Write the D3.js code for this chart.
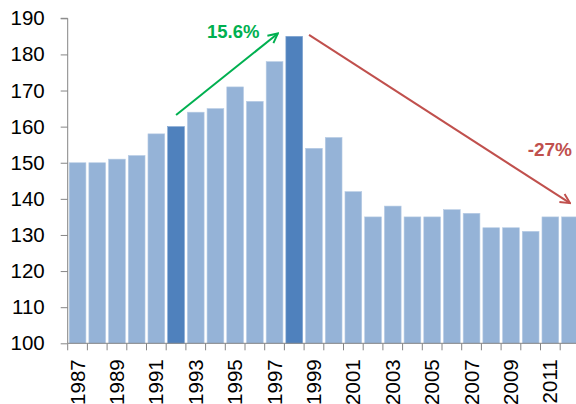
<!DOCTYPE html>
<html><head><meta charset="utf-8">
<script src="https://cdn.jsdelivr.net/npm/d3@7"></script>
<style>
body{margin:0;background:#fff;}
svg{display:block;font-family:"Liberation Sans",Arial,sans-serif;}
</style></head>
<body><svg id="c" width="576" height="404"></svg>
<script>
const years = [1987,1988,1989,1990,1991,1992,1993,1994,1995,1996,1997,1998,1999,2000,2001,2002,2003,2004,2005,2006,2007,2008,2009,2010,2011,2012];
const values = [150,150,151,152,158,160,164,165,171,167,178,185,154,157,142,135,138,135,135,137,136,132,132,131,135,135];
const highlightYears = [1992,1998];
const yTicks = [100,110,120,130,140,150,160,170,180,190];
const xLabelYears = [1987,1989,1991,1993,1995,1997,1999,2001,2003,2005,2007,2009,2011];
const annotations = [
  {label:"15.6%", color:"#00b050", from:[1992,163.2], to:[1997.17,185.8], text:[1994.9,184.6], anchor:"middle", size:18.5},
  {label:"-27%", color:"#c0504d", from:[1998.75,185.4], to:[2012,138.8], text:[2012.1,151.9], anchor:"end", size:19}
];

const svg = d3.select("#c");
const mLeft = 67.7, mTop = 18.3, mBottom = 343.3, step = 19.7;
const x = d3.scaleBand().domain(years).range([mLeft, mLeft + step*years.length]).paddingInner(0.15).paddingOuter(0.075);
const y = d3.scaleLinear().domain([100,190]).range([mBottom, mTop]);
const xc = v => mLeft + (v - years[0]) * step + step/2;

// bars
svg.append("g").selectAll("rect").data(years).join("rect")
  .attr("x", d => x(d))
  .attr("y", (d,i) => y(values[i]))
  .attr("width", x.bandwidth())
  .attr("height", (d,i) => y(100) - y(values[i]))
  .attr("fill", d => highlightYears.includes(d) ? "#4f81bd" : "#95b3d7")
  .attr("stroke", d => highlightYears.includes(d) ? "#7ea3d0" : "#b8cce4")
  .attr("stroke-width", 0.6);

// y axis
const yAxis = d3.axisLeft(y).tickValues(yTicks).tickSize(7).tickPadding(16);
const gy = svg.append("g").attr("transform", `translate(${mLeft},0)`).call(yAxis);
gy.select(".domain").attr("stroke","#868686").attr("d", `M-7,${mTop}H0V${mBottom}`);
gy.selectAll(".tick line").attr("stroke","#868686");
gy.selectAll(".tick text").attr("font-size","20.5px").attr("fill","#000").attr("font-family","Liberation Sans, Arial, sans-serif");

// x axis: ticks at band boundaries
const gx = svg.append("g");
gx.append("line").attr("x1", mLeft).attr("x2", mLeft + step*years.length).attr("y1", mBottom).attr("y2", mBottom).attr("stroke","#868686");
gx.selectAll("line.t").data(d3.range(years.length+1)).join("line").attr("class","t")
  .attr("x1", i => mLeft + i*step).attr("x2", i => mLeft + i*step)
  .attr("y1", mBottom).attr("y2", mBottom + 7).attr("stroke","#868686");
gx.selectAll("text").data(xLabelYears).join("text")
  .attr("transform", d => `translate(${x(d) + x.bandwidth()/2 + 7},${mBottom + 16}) rotate(-90)`)
  .attr("text-anchor","end")
  .attr("font-size","20.5px")
  .attr("fill","#000")
  .text(d => d);

// arrows
const defs = svg.append("defs");
annotations.forEach((a,i) => {
  defs.append("marker").attr("id","ah"+i).attr("viewBox","0 0 10 10").attr("refX",9).attr("refY",5)
    .attr("markerWidth",6).attr("markerHeight",6).attr("orient","auto").attr("markerUnits","strokeWidth")
    .append("path").attr("d","M1,1 L9,5 L1,9").attr("fill","none").attr("stroke",a.color).attr("stroke-width",1.6);
  svg.append("line")
    .attr("x1", xc(a.from[0])).attr("y1", y(a.from[1]))
    .attr("x2", xc(a.to[0])).attr("y2", y(a.to[1]))
    .attr("stroke", a.color).attr("stroke-width", 2).attr("marker-end", `url(#ah${i})`);
  svg.append("text")
    .attr("x", xc(a.text[0])).attr("y", y(a.text[1]))
    .attr("text-anchor", a.anchor)
    .attr("font-size", a.size + "px").attr("font-weight","bold").attr("fill", a.color)
    .text(a.label);
});
</script></body></html>
